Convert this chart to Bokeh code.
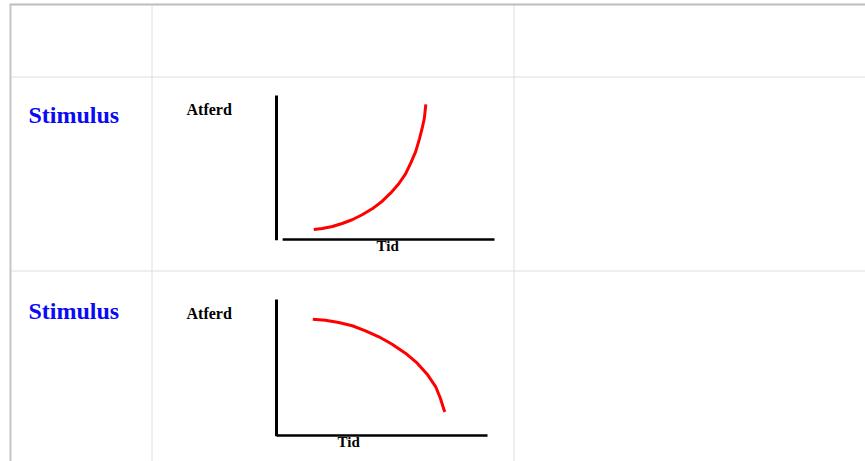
from bokeh.plotting import figure
from bokeh.models import Range1d
from bokeh.core.properties import value
from bokeh.embed import file_html
from bokeh.resources import INLINE

# ---- data ----
row_labels = ["Stimulus", "Stimulus"]
y_label = "Atferd"
x_label = "Tid"

# curve 1: accelerating increase (Tid 0..10, Atferd 0..10)
tid_1 = [1.71, 2.10, 2.56, 3.01, 3.47, 3.93, 4.39, 4.85, 5.23, 5.61, 5.92,
         6.15, 6.38, 6.56, 6.68, 6.78, 6.83, 6.85]
atferd_1 = [0.69, 0.76, 0.90, 1.11, 1.37, 1.72, 2.13, 2.66, 3.22, 3.87, 4.56,
            5.28, 6.08, 7.01, 7.71, 8.40, 9.10, 9.38]

# curve 2: accelerating decrease
tid_2 = [1.72, 2.32, 2.95, 3.59, 4.22, 4.85, 5.48, 6.11, 6.67, 7.14, 7.54,
         7.77, 7.93, 7.98]
atferd_2 = [8.55, 8.48, 8.31, 8.07, 7.70, 7.26, 6.71, 6.05, 5.32, 4.51, 3.60,
            2.72, 1.93, 1.74]

W, H = 865, 461

p = figure(width=W, height=H, x_range=Range1d(0, W), y_range=Range1d(H, 0),
           output_backend="svg", toolbar_location=None, min_border=0,
           x_axis_location=None, y_axis_location=None)
p.grid.visible = False
p.outline_line_color = None
p.background_fill_color = "white"
p.border_fill_color = "white"

# ---- table grid ----
inner = "#dedede"
p.segment(x0=[151.5, 513.5], y0=[4, 4], x1=[151.5, 513.5], y1=[H, H],
          line_color=inner, line_width=1)
p.segment(x0=[10, 10], y0=[76.5, 270.5], x1=[W, W], y1=[76.5, 270.5],
          line_color=inner, line_width=1)
# outer border
p.segment(x0=[9], y0=[4], x1=[W], y1=[4], line_color="#bcbcbc", line_width=2)
p.segment(x0=[10], y0=[4], x1=[10], y1=[H], line_color="#c6c6c6", line_width=2)

# ---- row labels ----
serif = value("Liberation Serif")
p.text(x=[28, 28], y=[114, 310], text=row_labels, text_font=serif,
       text_font_style="bold", text_font_size="24px", text_color="#0a0af5",
       text_baseline="alphabetic", text_align="left")

# ---- mini charts ----
panels = [
    dict(xt=(276, 494), yt=(239, 95), tid=tid_1, atf=atferd_1,
         hx0=0.28, ylab=(186, 109), xlab=(376, 245)),
    dict(xt=(276, 487), yt=(435, 299), tid=tid_2, atf=atferd_2,
         hx0=0.0, ylab=(186, 313), xlab=(337, 441)),
]

for pn in panels:
    sub = p.subplot(x_source=Range1d(0, 10), y_source=Range1d(0, 10),
                    x_target=Range1d(*pn["xt"]), y_target=Range1d(*pn["yt"]))
    # axes
    sub.line(x=[0, 0], y=[-0.05, 10], line_color="black", line_width=3)
    sub.line(x=[pn["hx0"], 10], y=[0, 0], line_color="black", line_width=2.3)
    # curve
    sub.line(x=pn["tid"], y=pn["atf"], line_color="#ff0000", line_width=3,
             line_join="round", line_cap="butt")
    # labels
    p.text(x=[pn["ylab"][0]], y=[pn["ylab"][1]], text=[y_label], text_font=serif,
           text_font_style="bold", text_font_size="16px", text_color="black",
           text_baseline="alphabetic", text_align="left")
    p.text(x=[pn["xlab"][0]], y=[pn["xlab"][1]], text=[x_label], text_font=serif,
           text_font_style="bold", text_font_size="15px", text_color="black",
           text_baseline="alphabetic", text_align="left")

open("out.html", "w").write(file_html(p, INLINE))
